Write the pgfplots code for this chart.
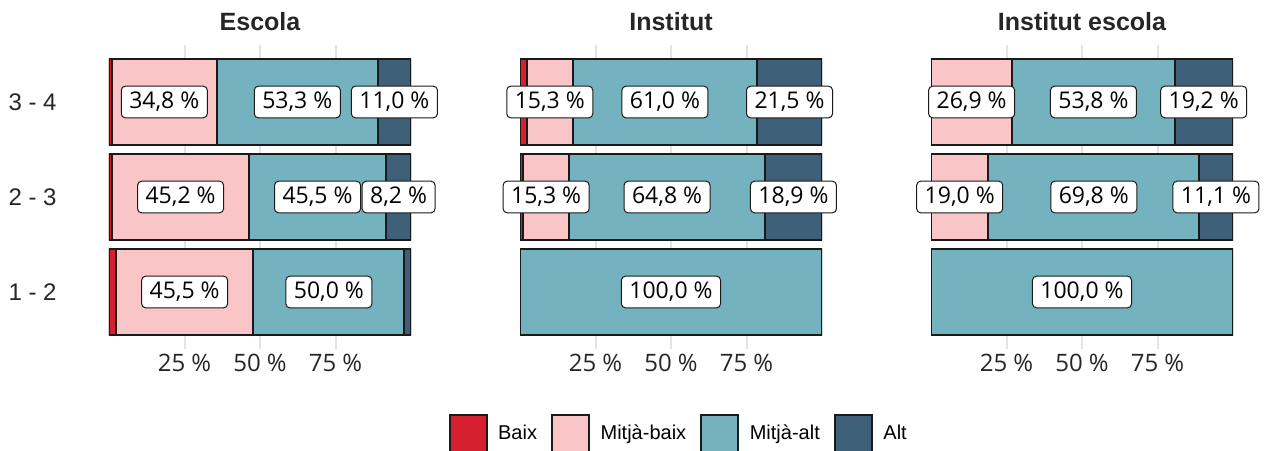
\documentclass[border=0pt]{standalone}
\usepackage{pgfplots}
\pgfplotsset{compat=1.18}
\usepackage{pgfplotstable}
\usepackage{fontspec}
\setmainfont{Liberation Sans}
\newfontfamily\opensans{Open Sans}

\definecolor{baix}{HTML}{D7202F}
\definecolor{mbaix}{HTML}{F9C5C6}
\definecolor{malt}{HTML}{75B2BF}
\definecolor{alt}{HTML}{3E6078}
\definecolor{gridgray}{HTML}{E3E3E3}
\definecolor{edge}{HTML}{1A1A1A}

% y: 1 = 1-2, 2 = 2-3, 3 = 3-4
\pgfplotstableread{
y baix mbaix malt alt
1 2.3 45.5 50.0 2.2
2 1.1 45.2 45.5 8.2
3 0.9 34.8 53.3 11.0
}\escola
\pgfplotstableread{
y baix mbaix malt alt
1 0.0 0.0 100.0 0.0
2 1.0 15.3 64.8 18.9
3 2.2 15.3 61.0 21.5
}\institut
\pgfplotstableread{
y baix mbaix malt alt
1 0.0 0.0 100.0 0.0
2 0.0 19.0 69.8 11.1
3 0.0 26.9 53.8 19.2
}\insesc

% label positions (segment centres)
\pgfplotstableread{
x y lab
25.05 1 {45,5 \%}
72.8 1 {50,0 \%}
23.7 2 {45,2 \%}
69.05 2 {45,5 \%}
95.9 2 {8,2 \%}
18.3 3 {34,8 \%}
62.35 3 {53,3 \%}
94.5 3 {11,0 \%}
}\escolalab
\pgfplotstableread{
x y lab
50.0 1 {100,0 \%}
8.65 2 {15,3 \%}
48.7 2 {64,8 \%}
90.55 2 {18,9 \%}
9.85 3 {15,3 \%}
48.0 3 {61,0 \%}
89.25 3 {21,5 \%}
}\institutlab
\pgfplotstableread{
x y lab
50.0 1 {100,0 \%}
9.5 2 {19,0 \%}
53.9 2 {69,8 \%}
94.35 2 {11,1 \%}
13.45 3 {26,9 \%}
53.8 3 {53,8 \%}
90.3 3 {19,2 \%}
}\insesclab

\pgfplotsset{
  geom/.style={
    scale only axis, width=151pt, height=152pt,
    xmin=0, xmax=100, ymin=0.4, ymax=3.6,
    anchor=south west,
  },
  panel/.style={
    geom,
    xbar stacked, bar width=0.9,
    axis line style={draw=none},
    major tick length=0pt,
    xtick={25,50,75},
    xticklabels={25 \%,50 \%,75 \%},
    xticklabel style={font=\opensans\fontsize{12}{14}\selectfont, text=black!85, anchor=north, inner sep=0pt, yshift=-2.5pt},
    ytick={1,2,3},
    yticklabels={},
    xmajorgrids,
    grid style={draw=gridgray, line width=1pt},
    title style={font=\fontsize{12.5}{15}\selectfont\bfseries, text=black!85, at={(0.5,1)}, anchor=base, yshift=1.25pt, inner sep=0pt},
  },
  labels/.style={
    geom, hide axis, clip=false,
  },
  seg/.style={fill=#1, draw=edge, line width=1pt},
  lab/.style={
    only marks, mark=*, mark size=0pt, mark options={draw=none, fill=none},
    nodes near coords, point meta=explicit symbolic,
    nodes near coords style={anchor=center, font=\opensans\fontsize{11.5}{13}\selectfont,
      text=black, fill=white, draw=edge, line width=0.5pt, rounded corners=2pt,
      inner xsep=4pt, inner ysep=3pt},
  },
}

\begin{document}
\begin{tikzpicture}
% ---- Escola
\begin{axis}[panel, at={(54.5pt,50.5pt)}, title={Escola},
  yticklabels={1 - 2,2 - 3,3 - 4},
  yticklabel style={font=\fontsize{12}{14}\selectfont, text=black!85, anchor=east, inner sep=0pt, xshift=-26pt}]
\addplot[seg=baix] table[x=baix, y=y] {\escola};
\addplot[seg=mbaix] table[x=mbaix, y=y] {\escola};
\addplot[seg=malt] table[x=malt, y=y] {\escola};
\addplot[seg=alt] table[x=alt, y=y] {\escola};
\end{axis}
\begin{axis}[labels, at={(54.5pt,50.5pt)}]
\addplot[lab] table[x=x, y=y, meta=lab] {\escolalab};
\end{axis}

% ---- Institut
\begin{axis}[panel, at={(260pt,50.5pt)}, title={Institut},
  legend style={at={(-0.238,-0.2138)}, anchor=north west, draw=none, fill=none,
    inner sep=0pt, legend columns=4, font=\fontsize{10}{12}\selectfont,
    /tikz/every even column/.append style={column sep=5pt},
    /tikz/every odd column/.append style={column sep=3.3pt}},
  legend image code/.code={\draw[#1] (0pt,-9.25pt) rectangle (18.5pt,9.25pt);}]
\addplot[seg=baix] table[x=baix, y=y] {\institut};
\addplot[seg=mbaix] table[x=mbaix, y=y] {\institut};
\addplot[seg=malt] table[x=malt, y=y] {\institut};
\addplot[seg=alt] table[x=alt, y=y] {\institut};
\legend{Baix,Mitjà-baix,Mitjà-alt,Alt}
\end{axis}
\begin{axis}[labels, at={(260pt,50.5pt)}]
\addplot[lab] table[x=x, y=y, meta=lab] {\institutlab};
\end{axis}

% ---- Institut escola
\begin{axis}[panel, at={(465.5pt,50.5pt)}, title={Institut escola}]
\addplot[seg=baix] table[x=baix, y=y] {\insesc};
\addplot[seg=mbaix] table[x=mbaix, y=y] {\insesc};
\addplot[seg=malt] table[x=malt, y=y] {\insesc};
\addplot[seg=alt] table[x=alt, y=y] {\insesc};
\end{axis}
\begin{axis}[labels, at={(465.5pt,50.5pt)}]
\addplot[lab] table[x=x, y=y, meta=lab] {\insesclab};
\end{axis}

\pgfresetboundingbox
\path[use as bounding box] (0,0) rectangle (634pt,225pt);
\end{tikzpicture}
\end{document}
